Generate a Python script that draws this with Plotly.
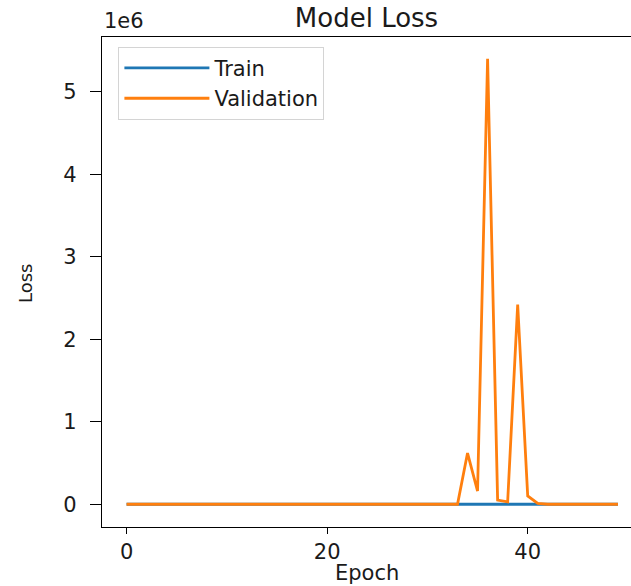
import plotly.graph_objects as go

# ---- data ----
epochs = list(range(50))
train_loss = [0, 0, 0, 0, 0, 0, 0, 0, 0, 0,
              0, 0, 0, 0, 0, 0, 0, 0, 0, 0,
              0, 0, 0, 0, 0, 0, 0, 0, 0, 0,
              0, 0, 0, 0, 0, 0, 0, 0, 0, 0,
              0, 0, 0, 0, 0, 0, 0, 0, 0, 0]
val_loss = [0, 0, 0, 0, 0, 0, 0, 0, 0, 0,
            0, 0, 0, 0, 0, 0, 0, 0, 0, 0,
            0, 0, 0, 0, 0, 0, 0, 0, 0, 0,
            0, 0, 0, 0, 620000, 160000, 5400000, 50000, 30000, 2420000,
            100000, 10000, 0, 0, 0, 0, 0, 0, 0, 0]
y_tick_vals = [0, 1e6, 2e6, 3e6, 4e6, 5e6]
y_tick_text = ["0", "1", "2", "3", "4", "5"]
x_tick_vals = [0, 20, 40]

FONT = "DejaVu Sans"
INK = "#1a1a1a"
W, H = 631, 586
L, R, T, B = 102, 0, 37, 59

fig = go.Figure()
fig.add_trace(go.Scatter(x=epochs, y=train_loss, mode="lines", name="Train",
                         line=dict(color="#1f77b4", width=2.8)))
fig.add_trace(go.Scatter(x=epochs, y=val_loss, mode="lines", name="Validation",
                         line=dict(color="#ff7f0e", width=2.8)))

fig.update_layout(
    width=W, height=H,
    margin=dict(l=L, r=R, t=T, b=B, autoexpand=False),
    paper_bgcolor="white", plot_bgcolor="white",
    font=dict(family=FONT, color=INK, size=20),
    title=dict(text="Model Loss", x=(L + W) / 2 / W, xanchor="center",
               y=1 - 18 / H, yanchor="middle",
               font=dict(family=FONT, size=26, color=INK)),
    showlegend=True,
    legend=dict(x=0.031, y=0.98, xanchor="left", yanchor="top",
                bgcolor="rgba(255,255,255,0.85)", bordercolor="#d4d4d4",
                borderwidth=1, font=dict(family=FONT, size=21, color=INK),
                itemwidth=85, tracegroupgap=0),
    xaxis=dict(range=[-2.45, 50.3], tickvals=x_tick_vals, automargin=False,
               showgrid=False, zeroline=False,
               showline=True, linecolor="black", linewidth=1.3, mirror=True,
               ticks="outside", ticklen=6, tickcolor="black", tickwidth=1.3,
               tickfont=dict(family=FONT, size=21, color=INK)),
    yaxis=dict(range=[-276000, 5665000], tickvals=y_tick_vals, ticktext=y_tick_text,
               automargin=False,
               showgrid=False, zeroline=False,
               showline=True, linecolor="black", linewidth=1.3, mirror=False,
               ticks="outside", ticklen=11, tickcolor="black", tickwidth=1.3,
               ticklabelstandoff=9,
               tickfont=dict(family=FONT, size=21, color=INK)),
)

# axis titles and offset text
fig.add_annotation(text="Epoch", xref="paper", yref="paper",
                   x=0.5, y=-(573 - (H - B)) / (H - T - B),
                   xanchor="center", yanchor="middle", showarrow=False,
                   font=dict(family=FONT, size=21, color=INK))
fig.add_annotation(text="Loss", xref="paper", yref="paper",
                   x=-(L - 25) / (W - L - R), y=(H - B - 284) / (H - T - B),
                   xanchor="center", yanchor="middle", textangle=-90, showarrow=False,
                   font=dict(family=FONT, size=18, color=INK))
fig.add_annotation(text="1e6", xref="paper", yref="paper",
                   x=0.0, y=1.0, xanchor="left", yanchor="bottom", yshift=2,
                   showarrow=False, font=dict(family=FONT, size=21, color=INK))

fig.write_html("out.html",
               config={"displayModeBar": False},
               post_script="document.body.style.margin='0';"
                           "document.body.style.overflow='hidden';")
